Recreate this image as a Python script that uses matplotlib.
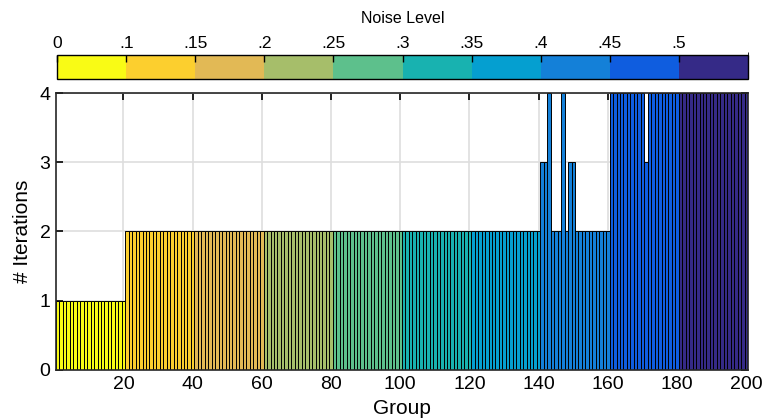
import numpy as np
import matplotlib
matplotlib.use("Agg")
import matplotlib.pyplot as plt
from matplotlib.colors import ListedColormap, BoundaryNorm
import matplotlib.colorbar as mcolorbar

plt.rcParams['font.family'] = ['Liberation Sans', 'DejaVu Sans']

# noise levels (one per block of 20 groups) and their colours
noise_labels = ['0', '.1', '.15', '.2', '.25', '.3', '.35', '.4', '.45', '.5']
noise_colors = ['#f9fb15', '#fccf2e', '#e2b955', '#a6be6a', '#5dc08c',
                '#18b2b0', '#059fd0', '#1480d8', '#0f5ddf', '#352a87']
groups_per_level = 20

# iterations per group, as runs of (value, count)
iter_runs = [(1, 20), (2, 120),
             (3, 2), (4, 1), (2, 3), (4, 1), (2, 1), (3, 2), (2, 10),
             (4, 10), (3, 1), (4, 9),
             (4, 20)]

iterations = np.concatenate([[v] * n for v, n in iter_runs])
groups = np.arange(1, len(iterations) + 1)
bar_colors = [noise_colors[(g - 1) // groups_per_level] for g in groups]

fig = plt.figure(figsize=(7.65, 4.19), dpi=100)
ax = fig.add_axes([0.0732, 0.117, 0.9046, 0.661])
ax.bar(groups, iterations, width=1, color=bar_colors, edgecolor='black', linewidth=0.7)
ax.set_xlim(0.5, 200.5)
ax.set_ylim(0, 4)
ax.set_xticks(np.arange(20, 201, 20))
ax.set_yticks(np.arange(0, 5, 1))
ax.set_axisbelow(True)
ax.grid(True, color='#dedede', lw=1.2)
ax.tick_params(direction='in', top=True, right=True, labelsize=14, length=5, width=1.2, pad=4)
for s in ax.spines.values():
    s.set_linewidth(1.2)
    s.set_color('#262626')
ax.set_xlabel('Group', fontsize=15, labelpad=5)
ax.set_ylabel('# Iterations', fontsize=15, labelpad=5)

# colour bar on top
cax = fig.add_axes([0.0749, 0.8107, 0.9025, 0.058])
cmap = ListedColormap(noise_colors)
norm = BoundaryNorm(np.arange(len(noise_colors) + 1), cmap.N)
cb = mcolorbar.ColorbarBase(cax, cmap=cmap, norm=norm, orientation='horizontal',
                            ticks=np.arange(len(noise_labels)))
cb.outline.set_linewidth(1.0)
cax.xaxis.set_ticks_position('top')
cax.xaxis.set_label_position('top')
cax.set_xticklabels(noise_labels)
cax.tick_params(direction='in', labelsize=12.5, length=5, width=1, pad=3)
cax.set_xlabel('Noise Level', fontsize=11.5, labelpad=9)

fig.savefig('out.png', dpi=100)
